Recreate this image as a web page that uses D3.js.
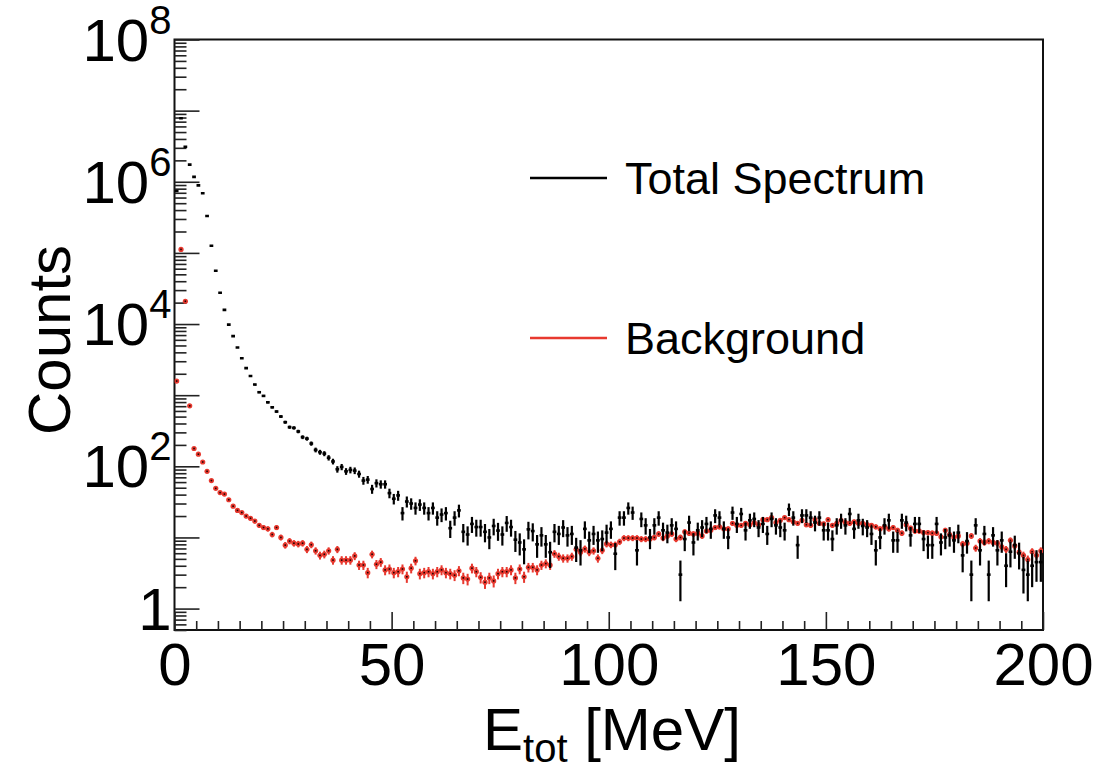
<!DOCTYPE html>
<html><head><meta charset="utf-8">
<script src="https://cdn.jsdelivr.net/npm/d3@7"></script>
<style>
body{margin:0;background:#fff}
svg{display:block}
text{font-family:"Liberation Sans",Arial,Helvetica,sans-serif;fill:#000}
</style>
</head><body>
<svg id="chart" width="1097" height="764"></svg>
<script>
// ---- data (1 MeV bins starting at 0 MeV) ----
const binStart = 0;
const binWidth = 1;
const totalCounts = [
 740000,7800000,3100000,1740000,1170000,890000,690000,331000,126000,56000,
 27500,15800,9800,6760,4680,3310,2400,1860,1410,1100,
 977,794,676,589,501,417,355,347,309,257,
 245,209,170,158,151,132,117,91,98,85,
 89,87,78,63,65,48,58,56,56,42,
 35,39,22,32,30,26,29,26,22,26,
 19,21,22,13.5,19,24,12,11,15.5,14,
 14,12,10,14.5,12.5,11,16,14,9.3,8.5,
 6.8,13,12.3,8,10.7,8,6.2,12,11.2,13.8,
 10.7,11.2,7.2,6.6,13.2,9.1,11.2,9.1,9.5,11.7,
 13.2,5.9,19,19,26,22.4,6.6,18.2,14.8,10,
 14.8,19,12.6,11.7,14.8,13.2,3,9.5,16.2,8.5,
 12.6,13.8,15.5,13.2,20.4,19,13.2,10,22.4,15.5,
 21.4,12.6,17.4,18.2,13.8,15.5,11.2,18.2,14.8,13.8,
 12.6,25,19,7.8,20.4,20.4,19,16.2,19,12.6,
 12.6,9.5,14.8,17.4,14.8,21.4,13.2,17.4,14.5,13.8,
 11.2,6.6,10,14.8,17.4,9.1,9.1,17.4,16.2,10.7,
 15.5,15.5,9.5,7.8,7.8,15.5,8.5,10,10.7,9.1,
 11.7,5.6,8.9,3,14.8,6.6,11.2,3,10.7,6.6,
 9.1,4,6.3,7.8,6,3.5,3,4,4.5,4.5
];
const backgroundCounts = [
 1580,112000,20900,708,178,148,115,85,63,49,
 42.7,40.7,33.9,27.5,24,22.4,20,18.6,17,14.8,
 13.8,13.2,11,13.8,10,7.8,8.9,8.3,8.1,8.3,
 6.8,7.9,6.5,5.6,5.8,6.5,4.8,6.8,4.8,4.8,
 4.8,5.5,4.1,4.1,3.2,5.8,4.2,4.5,3.5,3.6,
 3.2,3.3,3.6,2.8,3.7,4.7,3.1,3.2,3.3,3.1,
 3.3,3.5,3.2,3.1,2.95,3.4,2.7,2.6,3.7,3.3,
 2.75,2.35,2.7,2.45,3.1,3.3,3.3,3.5,2.7,3.6,
 2.8,3.8,3.8,3.5,4.1,4.3,4.1,5.9,5.4,5.1,
 5.1,5.4,6.8,6.2,6.9,6.2,6.5,5.1,6.6,8.1,
 7.9,7.9,8.7,9.8,9.8,9.8,9.8,9.5,9.5,9.5,
 10,11.2,9.8,10.5,11.2,9.5,10,12,11.5,11.2,
 11.5,10.5,12.3,12.6,13.8,14.1,13.2,13.2,15.8,14.8,
 14.8,15.8,15.1,16.2,15.1,17.8,17.8,19,16.2,17.4,
 19,17.8,16.6,15.8,17.4,15.1,14.8,17.8,15.8,15.5,
 17.8,14.8,15.8,17.4,16.2,15.8,16.6,15.8,15.8,15.1,
 14.8,14.1,13.2,14.1,13.2,13.8,12.6,11.5,15.1,13.5,
 12.3,12.3,11.7,11.7,11.5,11.5,10.2,12.6,11,10,
 10.5,8.1,8.3,10.5,7.1,8.9,8.5,8.9,8.5,8.3,
 7.4,6.8,9.1,7.6,6.2,5.6,4.9,6.3,5.6,6.5
];
const xMajorTicks = [0, 50, 100, 150, 200];
const xMinorStep = 5;
const yLabelExponents = [0, 2, 4, 6, 8];
const legendLabels = ["Total Spectrum", "Background"];
const xTitleMain = "E", xTitleSub = "tot", xTitleRest = " [MeV]";
const yTitle = "Counts";

// ---- layout ----
const svg = d3.select("#chart");
const L = 174.5, R = 1043, T = 39.5, B = 630;
const x = d3.scaleLinear().domain([0, 200]).range([L, R]);
const y = d3.scaleLog().domain([0.5, 1e8]).range([B, T]);
const RED = "#e8392f";

// frame
svg.append("rect").attr("x", L).attr("y", T).attr("width", R - L).attr("height", B - T)
  .attr("fill", "none").attr("stroke", "#111").attr("stroke-width", 2);

// x axis ticks (inward)
const xMinor = d3.range(0, 200 + 1e-9, xMinorStep).filter(v => !xMajorTicks.includes(v));
const gx = svg.append("g").attr("transform", `translate(0,${B})`);
gx.append("g").call(d3.axisBottom(x).tickValues(xMinor).tickSize(-9).tickFormat(""))
  .call(g => g.select(".domain").remove());
gx.append("g").call(d3.axisBottom(x).tickValues(xMajorTicks).tickSize(-18).tickPadding(12).tickFormat(d3.format("d")))
  .call(g => g.select(".domain").remove());
gx.selectAll("line").attr("stroke", "#222").attr("stroke-width", 1.6);
gx.selectAll("text").attr("font-size", 60).attr("font-family", "Liberation Sans, Arial, sans-serif");

// y axis ticks (inward)
const yMajor = d3.range(0, 9).map(e => Math.pow(10, e));
const yMinor = [];
for (let e = -1; e < 8; e++) for (let m = 2; m <= 9; m++) {
  const v = m * Math.pow(10, e);
  if (v >= 0.5 && v < 1e8) yMinor.push(v);
}
const gy = svg.append("g").attr("transform", `translate(${L},0)`);
gy.append("g").call(d3.axisLeft(y).tickValues(yMinor).tickSize(-12).tickFormat(""))
  .call(g => g.select(".domain").remove());
gy.append("g").call(d3.axisLeft(y).tickValues(yMajor).tickSize(-25).tickFormat(""))
  .call(g => g.select(".domain").remove());
gy.selectAll("line").attr("stroke", "#222").attr("stroke-width", 1.6);

// y labels
const ylab = svg.append("g");
yLabelExponents.forEach(e => {
  const yy = y(Math.pow(10, e));
  const t = ylab.append("text").attr("x", L - 3).attr("y", yy + 21)
    .attr("text-anchor", "end").attr("font-size", 60);
  if (e === 0) {
    t.text("1");
  } else {
    t.append("tspan").text("10");
    t.append("tspan").attr("font-size", 40).attr("dy", -27).text(String(e));
  }
});

// axis titles
const xt = svg.append("text").attr("x", 483).attr("y", 750).attr("font-size", 60);
xt.append("tspan").text(xTitleMain);
xt.append("tspan").attr("font-size", 40).attr("dy", 12).text(xTitleSub);
xt.append("tspan").attr("dy", -12).text(xTitleRest);

svg.append("text").attr("transform", `translate(70,340) rotate(-90)`)
  .attr("text-anchor", "middle").attr("font-size", 60).text(yTitle);

// data
const plot = svg.append("g");
svg.append("clipPath").attr("id", "clip").append("rect")
  .attr("x", L).attr("y", T).attr("width", R - L).attr("height", B - T);
plot.attr("clip-path", "url(#clip)");

function bins(arr) {
  return arr.map((v, i) => ({
    lo: binStart + i * binWidth, hi: binStart + (i + 1) * binWidth,
    c: binStart + (i + 0.5) * binWidth, v: v, e: Math.sqrt(v)
  }));
}
const tot = bins(totalCounts);
const bkg = bins(backgroundCounts);
const ySafe = v => v <= 0.5 ? B + 2 : y(v);

// background (red)
const gb = plot.append("g");
gb.selectAll("line.v").data(bkg).join("line")
  .attr("x1", d => x(d.c)).attr("x2", d => x(d.c))
  .attr("y1", d => ySafe(d.v + 0.3 * d.e)).attr("y2", d => ySafe(d.v - 0.3 * d.e))
  .attr("stroke", RED).attr("stroke-width", 2);
gb.selectAll("circle").data(bkg).join("circle")
  .attr("cx", d => x(d.c)).attr("cy", d => y(d.v)).attr("r", 2.6).attr("fill", RED);
gb.selectAll("rect").data(bkg).join("rect")
  .attr("x", d => x(d.c) - 0.8).attr("y", d => y(d.v) - 0.8).attr("width", 1.6).attr("height", 1.6)
  .attr("fill", "#200");

// total (black)
const gt = plot.append("g");
gt.selectAll("line.v").data(tot).join("line").attr("class", "v")
  .attr("x1", d => x(d.c)).attr("x2", d => x(d.c))
  .attr("y1", d => ySafe(d.v + d.e)).attr("y2", d => ySafe(d.v - d.e))
  .attr("stroke", "#000").attr("stroke-width", 2.2);
gt.selectAll("line.h").data(tot).join("line").attr("class", "h")
  .attr("x1", d => x(d.lo) + 0.3).attr("x2", d => x(d.hi) - 0.3)
  .attr("y1", d => y(d.v)).attr("y2", d => y(d.v))
  .attr("stroke", "#000").attr("stroke-width", 2.6);

// legend
const leg = svg.append("g");
[[legendLabels[0], "#000", 178], [legendLabels[1], RED, 338]].forEach(([lab, col, yy]) => {
  leg.append("line").attr("x1", 530).attr("x2", 607).attr("y1", yy).attr("y2", yy)
    .attr("stroke", col).attr("stroke-width", 2.5);
  leg.append("text").attr("x", 625).attr("y", yy + 16).attr("font-size", 45).text(lab);
});
</script>
</body></html>
